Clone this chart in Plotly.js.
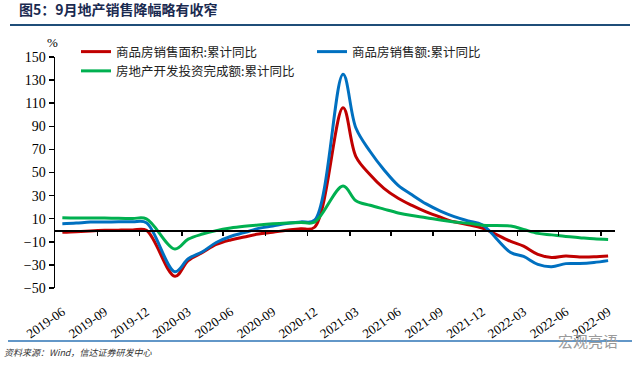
<!DOCTYPE html>
<html>
<head>
<meta charset="utf-8">
<script src="https://cdn.plot.ly/plotly-3.0.1.min.js"></script>
<style>html,body{margin:0;padding:0;background:#fff;}#chart{width:640px;height:367px;}</style>
</head>
<body>
<div id="chart"></div>
<script>
// ---- data (cumulative YoY, %) ----
var months = ['2019-06','2019-07','2019-08','2019-09','2019-10','2019-11','2019-12',
  '2020-02','2020-03','2020-04','2020-05','2020-06','2020-07','2020-08','2020-09','2020-10','2020-11','2020-12',
  '2021-02','2021-03','2021-04','2021-05','2021-06','2021-07','2021-08','2021-09','2021-10','2021-11','2021-12',
  '2022-02','2022-03','2022-04','2022-05','2022-06','2022-07','2022-08','2022-09'];
var salesArea = [-1.8,-1.3,-0.6,-0.1,0.1,0.2,-0.1,
  -39.9,-26.3,-19.3,-12.3,-8.4,-5.8,-3.3,-1.8,0.0,1.3,2.6,
  106,63.8,48.1,36.3,27.7,21.5,15.9,11.3,7.3,4.8,1.9,
  -9.6,-13.8,-20.9,-23.6,-22.2,-23.1,-23.0,-22.2];
var salesAmount = [5.6,6.2,7.1,7.1,7.3,7.3,6.5,
  -35.9,-24.7,-18.6,-10.6,-5.4,-2.1,1.6,3.7,5.8,7.2,8.7,
  135,88.5,68.2,52.4,38.9,30.7,22.8,16.6,11.8,8.0,4.8,
  -19.3,-22.7,-29.5,-31.5,-28.9,-28.8,-27.9,-26.3];
var investment = [10.9,10.6,10.5,10.5,10.3,10.2,9.9,
  -16.3,-7.7,-3.3,-0.3,1.9,3.4,4.6,5.6,6.3,6.8,7.0,
  38.3,25.6,21.6,18.3,15.0,12.7,10.9,8.8,7.2,6.0,4.4,
  3.7,0.7,-2.7,-4.0,-5.4,-6.4,-7.4,-8.0];
var seriesNames = ['商品房销售面积:累计同比','商品房销售额:累计同比','房地产开发投资完成额:累计同比'];
var tickLabels = ['2019-06','2019-09','2019-12','2020-03','2020-06','2020-09','2020-12',
  '2021-03','2021-06','2021-09','2021-12','2022-03','2022-06','2022-09'];
var yTicks = [-50,-30,-10,10,30,50,70,90,110,130,150];

// ---- layout helpers ----
var W = 640, H = 367, ML = 55, MR = 25, MT = 57, MB = 79;
var PW = W - ML - MR, PH = H - MT - MB;
function px(x){ return (x - ML) / PW; }
function py(y){ return (H - MB - y) / PH; }

var labelVals = tickLabels.map(function(m){ return m + '-01'; });
// slot boundaries (month mid-points) between labelled months
var boundaryVals = tickLabels.slice(0, 13).map(function(m){
  var y = +m.slice(0,4), mo = +m.slice(5,7) + 2;
  if (mo > 12) { mo -= 12; y += 1; }
  return y + '-' + (mo < 10 ? '0' + mo : mo) + '-16';
});

var colors = ['#C00000','#0070C0','#00B050'];
var series = [salesArea, salesAmount, investment];
var traces = series.map(function(s, i){
  return {x: months.map(function(m){ return m + '-01'; }), y: s, type:'scatter', mode:'lines',
    name: seriesNames[i], line:{color: colors[i], width:3, shape:'spline', smoothing:1}, hoverinfo:'skip'};
});
// helper trace so that the zero-line axis is drawn
traces.push({x:[months[0] + '-01'], y:[0], xaxis:'x2', type:'scatter', mode:'lines',
  showlegend:false, hoverinfo:'skip', line:{color:'rgba(0,0,0,0)'}});

var layout = {
  width: W, height: H,
  margin: {l: ML, r: MR, t: MT, b: MB, pad: 0},
  paper_bgcolor: '#fff', plot_bgcolor: '#fff',
  font: {family: 'Liberation Serif', color: '#000'},
  title: {text: '图5：9月地产销售降幅略有收窄', x: 19 / W, xanchor: 'left', xref: 'container',
    y: 1 - 10 / H, yanchor: 'middle', yref: 'container',
    font: {family: 'Noto Sans CJK SC', size: 14, weight: 'bold', color: '#1a2a50'}},
  showlegend: true,
  legend: {orientation: 'h', x: px(76), y: py(37), xanchor: 'left', yanchor: 'top',
    entrywidth: 191, entrywidthmode: 'pixels', itemwidth: 30, bgcolor: 'rgba(0,0,0,0)',
    font: {family: 'Noto Sans CJK SC', size: 12.5, color: '#222'}},
  xaxis: {type: 'date', range: ['2019-05-16', '2022-09-16'], tickvals: labelVals, ticktext: tickLabels,
    tickangle: -35, showline: false, showgrid: false, zeroline: false, ticks: '',
    tickfont: {family: 'Liberation Serif', size: 13, color: '#000'}, ticklabelstandoff: 13, fixedrange: true},
  xaxis2: {type: 'date', overlaying: 'x', matches: 'x', anchor: 'free', position: 0.25, side: 'bottom',
    showline: true, linecolor: '#000', linewidth: 1.5, ticks: 'outside', ticklen: 4, tickwidth: 1.5,
    tickcolor: '#000', tickvals: boundaryVals, showticklabels: false, showgrid: false, zeroline: false},
  yaxis: {range: [-50, 150], tickvals: yTicks, showline: true, linecolor: '#000', linewidth: 1.5,
    ticks: 'outside', ticklen: 5, tickwidth: 1.5, tickcolor: '#000', showgrid: false, zeroline: false,
    tickfont: {family: 'Liberation Serif', size: 14, color: '#000'}, fixedrange: true},
  shapes: [
    {type: 'line', xref: 'paper', yref: 'paper', x0: px(10), x1: px(630), y0: py(25), y1: py(25),
      line: {color: '#1F4E79', width: 2}},
    {type: 'line', xref: 'paper', yref: 'paper', x0: px(8), x1: px(632), y0: py(341), y1: py(341),
      line: {color: '#2E75B6', width: 1.5}}
  ],
  annotations: [
    {text: '%', xref: 'paper', yref: 'paper', x: px(52), y: py(42), showarrow: false,
      xanchor: 'center', yanchor: 'middle', font: {family: 'Liberation Serif', size: 13, color: '#000'}},
    {text: '资料来源：Wind，信达证券研发中心', xref: 'paper', yref: 'paper', x: px(2), y: py(352),
      showarrow: false, xanchor: 'left', yanchor: 'middle',
      font: {family: 'Noto Sans CJK SC', size: 9, style: 'italic', color: '#333'}},
    {text: '宏观亮语', xref: 'paper', yref: 'paper', x: px(588), y: py(340), showarrow: false,
      xanchor: 'center', yanchor: 'middle', font: {family: 'Noto Sans CJK SC', size: 15, color: '#9a9a9a'}}
  ]
};

Plotly.newPlot('chart', traces, layout, {staticPlot: true, displayModeBar: false});
</script>
</body>
</html>
